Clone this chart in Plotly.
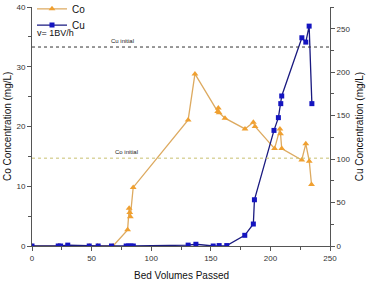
import plotly.graph_objects as go

co_bv = [0, 22, 30, 48, 55, 68, 80.2, 81.5, 82.0, 82.5, 84.9, 131, 136.7, 155.8, 156.3, 157.0,
         161.9, 178.7, 185.7, 187.1, 203.5, 208.0, 208.5, 209.5, 226.3, 229.7, 232.6, 234.5]
co_conc = [0, 0, 0, 0, 0, 0, 2.7, 6.3, 5.6, 4.9, 9.8, 21.1, 28.8, 22.5, 23.1, 22.3,
           21.4, 19.6, 20.7, 20.0, 16.3, 19.6, 18.8, 16.3, 14.4, 17.1, 14.2, 10.3]

cu_bv = [0, 22, 24, 30, 48, 55.5, 66.7, 79, 81, 83, 85, 131, 137.5, 152, 157, 163.4,
         178.5, 185.7, 186.6, 203, 206.7, 208.7, 209.5, 226.4, 229.7, 232.5, 234.8]
cu_conc = [0, 0, 0, 1, 0, 0, 0, 0, 0, 0, 0, 1, 2, 0, 0.5, 0.5,
           12.3, 25.3, 53.2, 133, 147.7, 163.8, 172.6, 239.6, 234.6, 253, 163.8]

cu_initial = 33.3   # mg/L on left scale (~229 on right)
co_initial = 14.7   # mg/L

FONT = "Liberation Sans, Arial, sans-serif"

fig = go.Figure()
fig.add_trace(go.Scatter(
    x=co_bv, y=co_conc, name="Co", mode="lines+markers",
    line=dict(color="#DDAA60", width=1.3),
    marker=dict(symbol="triangle-up", size=6, color="#F0A030"),
    yaxis="y", legend="legend"))
fig.add_trace(go.Scatter(
    x=cu_bv, y=cu_conc, name="Cu", mode="lines+markers",
    line=dict(color="#1A1A80", width=1.3),
    marker=dict(symbol="square", size=5, color="#1515C0"),
    yaxis="y2", legend="legend2"))

fig.add_shape(type="line", xref="x", yref="y", x0=0, x1=250, y0=cu_initial, y1=cu_initial,
              line=dict(color="#333333", width=1, dash="dot"))
fig.add_shape(type="line", xref="x", yref="y", x0=0, x1=250, y0=co_initial, y1=co_initial,
              line=dict(color="#C8C070", width=1, dash="dot"))

fig.add_annotation(x=76, y=cu_initial, xref="x", yref="y", text="Cu initial", showarrow=False,
                   yshift=6, font=dict(size=6, color="#222", family=FONT))
fig.add_annotation(x=79, y=co_initial, xref="x", yref="y", text="Co initial", showarrow=False,
                   yshift=6, font=dict(size=6, color="#222", family=FONT))
fig.add_annotation(x=0.01, y=0.891, xref="paper", yref="paper", xanchor="left", yanchor="middle",
                   text="v= 1BV/h", showarrow=False, font=dict(size=9, color="#111", family=FONT))
fig.add_annotation(x=-0.082, y=0.5, xref="paper", yref="paper", xanchor="center", yanchor="middle",
                   text="Co Concentration (mg/L)", textangle=-90, showarrow=False,
                   font=dict(size=10, color="#111", family=FONT))
fig.add_annotation(x=1.1, y=0.5, xref="paper", yref="paper", xanchor="center", yanchor="middle",
                   text="Cu Concentration (mg/L)", textangle=-90, showarrow=False,
                   font=dict(size=10, color="#111", family=FONT))
fig.add_annotation(x=0.5, y=-0.125, xref="paper", yref="paper", xanchor="center", yanchor="middle",
                   text="Bed Volumes Passed", showarrow=False,
                   font=dict(size=10, color="#111", family=FONT))

axis_common = dict(showgrid=False, zeroline=False, showline=True, linecolor="#555555", linewidth=1,
                   ticks="outside", ticklen=4, tickcolor="#555555", automargin=False,
                   tickfont=dict(size=8, color="#333333", family=FONT))

leg_common = dict(xanchor="left", yanchor="top", bgcolor="rgba(0,0,0,0)",
                  font=dict(size=10, family=FONT), itemwidth=30)

fig.update_layout(
    width=368, height=286,
    margin=dict(l=32, r=38, t=7, b=40, autoexpand=False),
    paper_bgcolor="white", plot_bgcolor="white",
    font=dict(family=FONT, size=10, color="#111"),
    showlegend=True,
    legend=dict(x=0.0, y=1.053, **leg_common),
    legend2=dict(x=0.0, y=0.985, **leg_common),
    xaxis=dict(range=[0, 250], dtick=50,
               minor=dict(dtick=25, ticks="outside", ticklen=3, tickcolor="#555555"),
               **axis_common),
    yaxis=dict(range=[0, 40], dtick=10,
               minor=dict(dtick=5, ticks="outside", ticklen=3, tickcolor="#555555"),
               **axis_common),
    yaxis2=dict(range=[0, 275], dtick=50, overlaying="y", side="right", anchor="x",
                minor=dict(dtick=25, ticks="outside", ticklen=3, tickcolor="#555555"),
                **axis_common),
)

fig.write_html("out.html", config={"displayModeBar": False},
               post_script="document.body.style.margin='0';")
